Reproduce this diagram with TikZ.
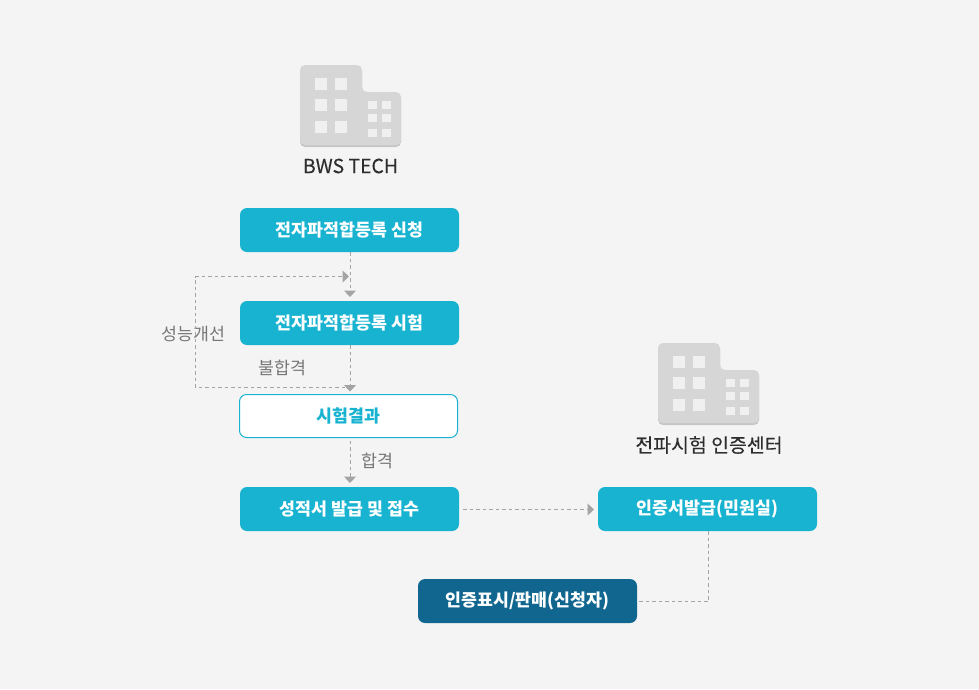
\documentclass[tikz,border=0pt]{standalone}
\usepackage{fontspec}
\setmainfont{Noto Sans CJK KR}
\usepackage{xcolor}
\usetikzlibrary{positioning,arrows.meta}
\definecolor{bgpage}{HTML}{F4F4F4}
\definecolor{tealbox}{HTML}{18B3D0}
\definecolor{navybox}{HTML}{11668F}
\definecolor{dashline}{HTML}{A4A4A4}
\definecolor{labelgray}{HTML}{777777}
\definecolor{iconbody}{HTML}{D6D6D6}
\definecolor{iconedge}{HTML}{C6C6C6}
\definecolor{iconwin}{HTML}{F0F0F0}

\begin{document}
\begin{tikzpicture}[
    x=1pt, y=-1pt,
    node distance=49pt,
    flowbox/.style={rectangle, rounded corners=7pt, fill=tealbox, text=white,
                    minimum width=219pt, minimum height=44pt, align=center,
                    inner sep=0pt, outer sep=0pt, font=\fontsize{17.3}{19}\selectfont\bfseries},
    darkbox/.style={flowbox, fill=navybox},
    resultbox/.style={flowbox, fill=white, draw=tealbox, line width=1pt, text=tealbox,
                      minimum width=218pt, minimum height=43pt},
    link/.style={dashed, dash pattern=on 3.5pt off 3pt, draw=dashline, line width=1pt},
    arrow/.style={link, -{Triangle[width=12pt,length=6.5pt,fill=dashline]}, shorten >=4pt},
    note/.style={text=labelgray, inner sep=0pt, font=\fontsize{17.3}{19}\selectfont},
    title/.style={text=black!82, inner sep=0pt, font=\fontsize{19.4}{21}\selectfont\addfontfeature{FakeBold=0.25}},
    building/.pic={
        \fill[iconedge, rounded corners=5pt] (0,1) -- (0,82) -- (101,82) -- (101,28) -- (62,28) -- (62,1) -- cycle;
        \fill[iconbody, rounded corners=5pt] (0,0) -- (0,80) -- (101,80) -- (101,27) -- (62,27) -- (62,0) -- cycle;
        \foreach \yy in {13,34,56}
            \foreach \xx in {15,35}
                \fill[iconwin] (\xx,\yy) rectangle ++(12,12);
        \foreach \yy in {36,49,64}
            \foreach \xx in {68,82}
                \fill[iconwin] (\xx,\yy) rectangle ++(9,8);
    }
]
\useasboundingbox[fill=bgpage] (0,0) rectangle (979,689);

% icons
\pic at (300,65) {building};
\pic at (658,343) {building};
\node[title] (bws) at (350.5,166) {BWS TECH};
\node[title] (center) at (709,445) {전파시험 인증센터};

% boxes
\node[flowbox] (apply) at (349.5,230) {전자파적합등록 신청};
\node[flowbox, below=of apply] (test) {전자파적합등록 시험};
\node[resultbox, below=49.5pt of test, xshift=-1pt] (result) {시험결과};
\node[flowbox, below=49.5pt of result, xshift=1pt] (issue) {성적서 발급 및 접수};
\node[flowbox, right=139pt of issue] (cert) {인증서발급(민원실)};
\node[darkbox, below=48pt of cert, xshift=-180pt] (mark) {인증표시/판매(신청자)};

% labels
\node[note] (improve) at (193.5,334) {성능개선};
\node[note] (fail) at (282.5,368) {불합격};
\node[note] (pass) at (377.5,461) {합격};

% turning points
\coordinate (midline) at (350,230);
\coordinate (sideline) at (530,509.5);
\coordinate (failjoin) at (345,387.5);
\coordinate (failturn) at (195.5,387.5);
\coordinate (backturn) at (195.5,276.5);
\coordinate (retest) at (353,276.5);
\coordinate (markturn) at (708.5,601.5);

\draw[arrow] (apply.south -| midline) -- (test.north -| midline);
\draw[arrow, shorten >=3pt] (test.south -| midline) -- (result.north -| midline);
\draw[arrow, shorten <=3pt] (result.south -| midline) -- (issue.north -| midline);
\draw[arrow, shorten <=4pt] (issue.east |- sideline) -- (cert.west |- sideline);
\draw[arrow] (failjoin) -- (failturn) -- (backturn) -- (retest);
\draw[link] (cert.south -| markturn) -- (markturn) -- (mark.east |- markturn);
\end{tikzpicture}
\end{document}
